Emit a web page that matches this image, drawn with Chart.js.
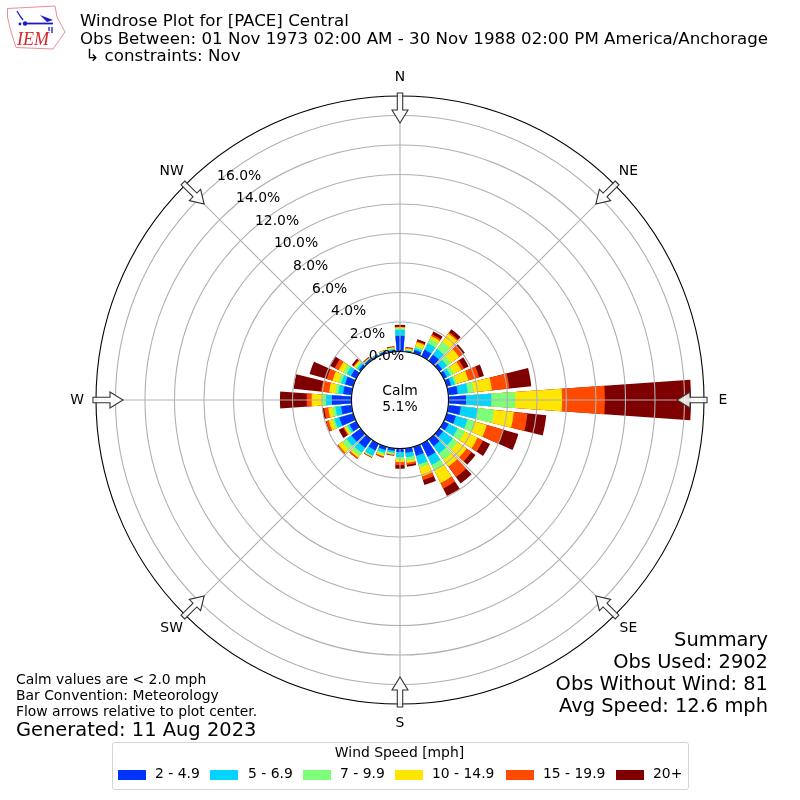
<!DOCTYPE html>
<html><head><meta charset="utf-8">
<script src="https://cdn.jsdelivr.net/npm/chart.js@4"></script>
<style>
html,body{margin:0;padding:0;background:#fff}
#wrap{position:relative;width:800px;height:800px;overflow:hidden;font-family:"DejaVu Sans",sans-serif;color:#000}
canvas{position:absolute;left:0;top:0}
.t{position:absolute;white-space:pre;line-height:1}
.sw{position:absolute;top:770px;width:28px;height:10px}
#box{position:absolute;left:112px;top:742px;width:575px;height:46px;border:1px solid #d5d5d5;border-radius:3px}
</style></head><body>
<div id="wrap">
<canvas id="c" width="800" height="800"></canvas>
<svg style="position:absolute;left:0;top:0" width="70" height="55" viewBox="0 0 70 55">
<path d="M7.5 8.5 L55 6 L57 17 L65 32 L58 42 L53 49 L16 47.5 L13 38 L10 28 L7.5 17Z" fill="#fff" stroke="#e8808a" stroke-width="0.9"/>
<path d="M25 23.5 H53" stroke="#1a1acc" stroke-width="1.8" fill="none"/>
<path d="M40 15 L53 20 L47 22Z" fill="#1a1acc"/>
<path d="M17 11 L20 16 L23 20 M49 27 L49 31 M52 27 L52 33" stroke="#1a1acc" stroke-width="1.3" fill="none"/>
<circle cx="25" cy="23.5" r="2.2" fill="#1a1acc"/>
<circle cx="20" cy="24" r="1.4" fill="#1a1acc"/>
<text x="17" y="44.5" font-family="Liberation Serif" font-style="italic" font-size="18" fill="#d8232a">IEM</text>
</svg>
<div id="texts"></div>
<div id="box"></div>
</div>
<script>
const directions = [0,10,20,30,40,50,60,70,80,90,100,110,120,130,140,150,160,170,180,190,200,210,220,230,240,250,260,270,280,290,300,310,320,330,340,350];
// running percent of observations up to and including each speed class
const upTo4_9  = [1.06,.07,.24,.51,.51,.24,.24,.31,.65,1.19,.85,.65,.38,.31,.58,.99,.65,.31,.24,.17,.24,.51,.72,.78,.51,.99,.72,1.33,.58,.58,.41,.17,.14,.10,.14,.10];
const upTo6_9  = [1.47,.10,.38,.99,.99,.65,.51,.58,1.33,2.90,2.01,1.47,1.06,1.13,1.19,1.60,1.26,.61,.58,.31,.44,.92,1.13,1.19,.65,1.33,1.11,1.74,.92,.85,.72,.31,.17,.14,.17,.17];
const upTo9_9  = [1.57,.15,.51,1.33,1.60,.99,.78,.72,1.74,4.52,3.11,2.01,1.60,1.54,1.74,2.01,1.47,.85,.72,.38,.58,.99,1.40,1.54,.78,1.47,1.33,2.01,1.13,1.06,.99,.44,.20,.15,.20,.24];
const upTo14_9 = [1.64,.24,.78,1.54,2.29,1.67,1.33,1.54,2.97,7.70,4.47,2.83,2.56,2.29,2.29,2.97,2.08,.99,.92,.44,.68,1.02,1.54,1.86,.92,1.74,1.60,2.70,1.54,1.47,1.33,.55,.24,.16,.24,.31];
const upTo19_9 = [1.67,.29,.85,1.67,2.39,2.01,1.54,2.29,4.17,10.60,5.40,3.97,2.97,2.70,3.17,3.38,2.35,1.13,1.13,.48,.75,1.06,1.64,1.95,.99,1.91,1.88,3.04,2.08,1.88,1.64,.61,.27,.16,.25,.34];
const allSpeeds= [1.81,.33,.99,1.88,2.63,2.15,1.88,2.63,5.66,16.44,6.68,5.06,3.50,3.04,3.70,3.96,2.70,1.26,1.37,.51,.78,1.08,1.65,1.96,1.33,1.95,2.01,4.85,3.96,3.09,2.01,.75,.31,.17,.26,.38];
const speedLabels = ["2 - 4.9","5 - 6.9","7 - 9.9","10 - 14.9","15 - 19.9","20+"];
const speedColors = ["#0033ff","#00d4ff","#7dff7a","#ffe600","#ff4a00","#7f0000"];
const speedSeries = [upTo4_9,upTo6_9,upTo9_9,upTo14_9,upTo19_9,allSpeeds];
const radialTicks = [0,2,4,6,8,10,12,14,16];
const compass = ["N","NE","E","SE","S","SW","W","NW"];
const calmText = ["Calm","5.1%"];
const titleLines = ["Windrose Plot for [PACE] Central","Obs Between: 01 Nov 1973 02:00 AM - 30 Nov 1988 02:00 PM America/Anchorage"," \u21b3 constraints: Nov"];
const summaryLines = ["Summary","Obs Used: 2902","Obs Without Wind: 81","Avg Speed: 12.6 mph"];
const noteLines = ["Calm values are < 2.0 mph","Bar Convention: Meteorology","Flow arrows relative to plot center."];
const generated = "Generated: 11 Aug 2023";

const R_MIN=-3.29, R_MAX=17.32, BAR_DEG=8, GAP_DEG=2;
const FONT='"DejaVu Sans"';
const withGaps = a => a.flatMap(v=>[v,0]);
const rad = d => d*Math.PI/180;

const decor = {
  id:'decor',
  afterDraw(chart){
    const s=chart.scales.r, g=chart.ctx, cx=s.xCenter, cy=s.yCenter;
    const r0=s.getDistanceFromCenterForValue(0), rOut=s.drawingArea;
    g.save();
    // spokes
    g.strokeStyle='#b0b0b0'; g.lineWidth=1.1;
    compass.forEach((_,i)=>{
      const a=rad(i*45);
      g.beginPath();
      g.moveTo(cx+r0*Math.sin(a),cy-r0*Math.cos(a));
      g.lineTo(cx+rOut*Math.sin(a),cy-rOut*Math.cos(a));
      g.stroke();
    });
    // hole
    g.fillStyle='#fff'; g.beginPath(); g.arc(cx,cy,r0,0,2*Math.PI); g.fill();
    g.strokeStyle='#000'; g.lineWidth=1.1; g.beginPath(); g.arc(cx,cy,r0,0,2*Math.PI); g.stroke();
    // arrows
    compass.forEach((_,i)=>{
      g.save(); g.translate(cx,cy); g.rotate(rad(i*45));
      const tail=-rOut-3, neck=-rOut+14, tip=-rOut+27;
      g.beginPath();
      g.moveTo(-2.7,tail); g.lineTo(2.7,tail); g.lineTo(2.7,neck); g.lineTo(8,neck);
      g.lineTo(0,tip); g.lineTo(-8,neck); g.lineTo(-2.7,neck); g.closePath();
      g.fillStyle='rgba(255,255,255,0.85)'; g.fill();
      g.strokeStyle='#333'; g.lineWidth=1.1; g.lineJoin='miter'; g.stroke();
      g.restore();
    });
    // text
    g.fillStyle='#000'; g.font='13.9px '+FONT;
    g.textAlign='center'; g.textBaseline='middle';
    compass.forEach((t,i)=>{
      const a=rad(i*45), r=323;
      g.fillText(t,cx+r*Math.sin(a),cy-r*Math.cos(a));
    });
    g.fillText(calmText[0],cx,cy-9); g.fillText(calmText[1],cx,cy+7);
    g.textAlign='left'; g.textBaseline='alphabetic';
    const la=rad(40);
    radialTicks.forEach(v=>{
      const r=s.getDistanceFromCenterForValue(v);
      g.fillText(v.toFixed(1)+'%',cx-r*Math.sin(la),cy-r*Math.cos(la)-2.5);
    });
    g.restore();
  }
};

new Chart(document.getElementById('c'),{
  type:'polarArea',
  data:{
    labels:directions.flatMap(d=>[d+'\u00b0','']),
    datasets:speedSeries.map((vals,i)=>({
      label:speedLabels[i],
      data:withGaps(vals),
      backgroundColor:speedColors[i],
      borderWidth:0,
      angle:ctx=>ctx.dataIndex%2?GAP_DEG:BAR_DEG
    }))
  },
  options:{
    responsive:false,animation:false,devicePixelRatio:1,
    layout:{padding:96},
    plugins:{legend:{display:false},tooltip:{enabled:false},title:{display:false}},
    scales:{r:{
      min:R_MIN,max:R_MAX,startAngle:-BAR_DEG/2,
      afterBuildTicks:ax=>{ax.ticks=radialTicks.concat([R_MAX]).map(value=>({value}));},
      ticks:{display:false},
      angleLines:{display:false},
      pointLabels:{display:false},
      grid:{z:1,circular:true,lineWidth:1.1,color:c=>c.tick&&c.tick.value===R_MAX?'#000':'#b0b0b0'}
    }}
  },
  plugins:[decor]
});

// page text
const host=document.getElementById('wrap');
function txt(s,style){const d=document.createElement('div');d.className='t';d.textContent=s;Object.assign(d.style,style);host.appendChild(d);return d;}
titleLines.forEach((s,i)=>txt(s,{left:'80px',top:(13+i*17.5)+'px',fontSize:'16.67px'}));
summaryLines.forEach((s,i)=>txt(s,{right:'32px',top:(630+i*22)+'px',fontSize:'19.45px'}));
noteLines.forEach((s,i)=>txt(s,{left:'16px',top:(673+i*16)+'px',fontSize:'13.9px'}));
txt(generated,{left:'16px',top:'720px',fontSize:'19.45px'});
txt("Wind Speed [mph]",{left:'112px',width:'575px',textAlign:'center',top:'746px',fontSize:'13.9px'});
const swatchX=[118,210,303,395,506,616], labelX=[155,248,340,432,543,653];
speedLabels.forEach((s,i)=>{
  const b=document.createElement('div');b.className='sw';b.style.left=swatchX[i]+'px';b.style.background=speedColors[i];host.appendChild(b);
  txt(s,{left:labelX[i]+'px',top:'767px',fontSize:'13.9px'});
});
</script>
</body></html>
